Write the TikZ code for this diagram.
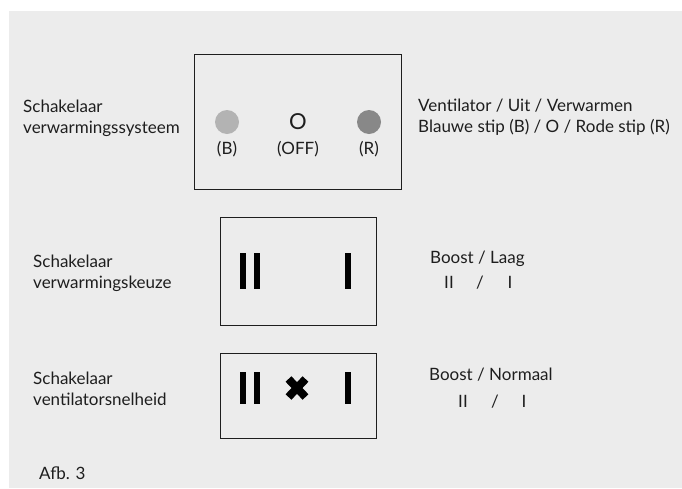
\documentclass[tikz,border=0pt]{standalone}
\usepackage{fontspec}
\setmainfont{Lato}
\usepackage{xcolor}
\definecolor{panel}{HTML}{ECECEC}
\definecolor{blue-dot}{HTML}{B3B3B3}
\definecolor{red-dot}{HTML}{888888}
\definecolor{ink}{HTML}{1E1E1E}
\tikzset{
    switch-box/.style = {draw=ink, line width=1.3pt, rectangle, inner sep=0pt, anchor=north west},
    label-text/.style = {text=ink, anchor=base west, inner sep=0pt, font=\fontsize{17}{21}\selectfont},
    mark-text/.style = {text=ink, anchor=base, inner sep=0pt, font=\fontsize{17}{21}\selectfont},
    bar/.style = {fill=black, draw=none, rectangle, minimum width=6pt, minimum height=36pt, inner sep=0pt},
    dot/.style = {circle, draw=none, minimum size=24pt, inner sep=0pt},
}
\begin{document}
\begin{tikzpicture}[x=1pt, y=-1pt]
\useasboundingbox (0,0) rectangle (682,488);
\fill[panel] (9,11) rectangle (682,488);

% verwarmingssysteem
\node[switch-box, minimum width=207pt, minimum height=135pt] (sys-box) at (194,54) {};
\node[dot, fill=blue-dot] (dot-b) at (227,122) {};
\node[dot, fill=red-dot] (dot-r) at (369,122) {};
\node[text=ink, inner sep=0pt, font=\fontsize{22}{22}\selectfont] (off) at (298,122) {O};
\node[mark-text] (lbl-b) at (227,154) {(B)};
\node[mark-text] (lbl-off) at (298,154) {(OFF)};
\node[mark-text] (lbl-r) at (369,154) {(R)};
\node[label-text, align=left] (sys-name) at (23,133) {Schakelaar\\verwarmingssysteem};
\node[label-text, align=left] (sys-info) at (418,132) {Ventilator / Uit / Verwarmen\\Blauwe stip (B) / O / Rode stip (R)};

% verwarmingskeuze
\node[switch-box, minimum width=156pt, minimum height=108pt] (sel-box) at (220,217) {};
\node[bar] (sel-two-a) at (243,271) {};
\node[bar] (sel-two-b) at (257,271) {};
\node[bar] (sel-one) at (348,271) {};
\node[label-text, align=left] (sel-name) at (33,288) {Schakelaar\\verwarmingskeuze};
\node[label-text] (sel-info) at (430,263) {Boost / Laag};
\node[mark-text] (sel-m2) at (449,288) {II};
\node[mark-text] (sel-sl) at (480,288) {/};
\node[mark-text] (sel-m1) at (510,288) {I};

% ventilatorsnelheid
\node[switch-box, minimum width=156pt, minimum height=85pt] (fan-box) at (220,353) {};
\node[bar, minimum height=32pt] (fan-two-a) at (243,388) {};
\node[bar, minimum height=32pt] (fan-two-b) at (257,388) {};
\node[bar, minimum height=32pt] (fan-one) at (348,388) {};
\coordinate (fan-x) at (297,388);
\draw[black, line width=8pt] ([shift={(-8.5,-9)}]fan-x) -- ([shift={(8.5,9)}]fan-x);
\draw[black, line width=8pt] ([shift={(-8.5,9)}]fan-x) -- ([shift={(8.5,-9)}]fan-x);
\node[label-text, align=left] (fan-name) at (33,405) {Schakelaar\\ventilatorsnelheid};
\node[label-text] (fan-info) at (429,380) {Boost / Normaal};
\node[mark-text] (fan-m2) at (463,407) {II};
\node[mark-text] (fan-sl) at (495,407) {/};
\node[mark-text] (fan-m1) at (524,407) {I};

\node[label-text] (caption) at (39,479) {Afb. 3};
\end{tikzpicture}
\end{document}
